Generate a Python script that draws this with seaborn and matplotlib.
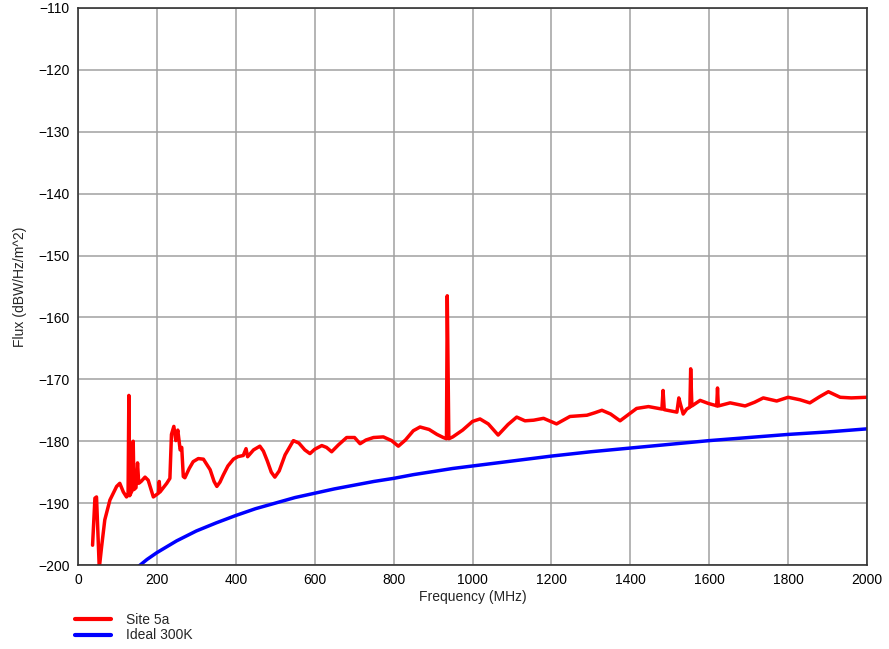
import numpy as np
import pandas as pd
import seaborn as sns
import matplotlib.pyplot as plt
from matplotlib.lines import Line2D

# measured flux, site 5a
red_freq = [37, 43, 47, 54, 60, 68, 81, 98, 106, 115, 123, 127, 129, 131, 137, 140, 142,
            147, 151, 154, 160, 170, 178, 191, 204, 206, 208, 225, 233, 237, 243, 248, 253,
            259, 263, 267, 271, 282, 292, 305, 318, 335, 345, 352, 360, 368, 380, 394, 405,
            419, 426, 430, 445, 461, 470, 480, 490, 499, 510, 525, 546, 560, 575, 588, 600,
            618, 630, 643, 660, 681, 701, 715, 730, 749, 774, 795, 812, 830, 850, 867, 890,
            910, 926, 934, 936, 940, 950, 975, 1000, 1019, 1040, 1065, 1090, 1112, 1133,
            1155, 1180, 1213, 1247, 1290, 1310, 1328, 1350, 1374, 1395, 1416, 1446, 1480,
            1483, 1486, 1518, 1523, 1527, 1534, 1543, 1551, 1553, 1556, 1577, 1598, 1615,
            1619, 1621, 1623, 1653, 1691, 1715, 1737, 1771, 1800, 1830, 1855, 1880, 1902,
            1932, 1960, 2000]
red_flux = [-196.8, -189.2, -189.0, -200.5, -197.0, -192.7, -189.5, -187.3, -186.8, -188.2,
            -189.0, -188.7, -172.6, -188.8, -188.0, -180.0, -187.8, -187.5, -183.5, -186.8,
            -186.5, -185.8, -186.3, -189.0, -188.4, -186.5, -188.2, -186.8, -186.0, -178.9,
            -177.6, -179.9, -178.2, -181.4, -181.0, -185.7, -185.9, -184.4, -183.3, -182.8,
            -182.9, -184.6, -186.5, -187.3, -186.6, -185.5, -184.0, -182.9, -182.5, -182.3,
            -181.2, -182.5, -181.4, -180.8, -181.6, -183.2, -185.0, -185.8, -184.8, -182.2,
            -179.9, -180.3, -181.4, -182.0, -181.3, -180.7, -181.0, -181.7, -180.6, -179.4,
            -179.4, -180.4, -179.8, -179.4, -179.3, -179.9, -180.8, -179.8, -178.3, -177.7,
            -178.1, -178.9, -179.4, -179.6, -156.5, -179.6, -179.3, -178.2, -176.8, -176.4,
            -177.2, -179.0, -177.3, -176.1, -176.7, -176.6, -176.3, -177.2, -176.0, -175.8,
            -175.4, -175.0, -175.6, -176.7, -175.7, -174.7, -174.4, -174.8, -171.8, -174.9,
            -175.3, -173.0, -174.0, -175.6, -174.8, -174.5, -168.3, -174.3, -173.4, -173.9,
            -174.2, -174.3, -171.4, -174.3, -173.8, -174.3, -173.7, -173.0, -173.5, -172.9,
            -173.3, -173.8, -172.8, -172.0, -172.9, -173.0, -172.9]

# ideal 300K thermal flux
blue_freq = [150, 175, 200, 250, 300, 350, 400, 450, 500, 550, 600, 650, 700, 750, 800, 850,
             900, 950, 1000, 1100, 1200, 1300, 1400, 1500, 1600, 1700, 1800, 1900, 2000]
blue_flux = [-200.4, -199.1, -198.0, -196.1, -194.5, -193.2, -192.0, -190.9, -190.0, -189.1,
             -188.4, -187.7, -187.1, -186.5, -186.0, -185.4, -184.9, -184.4, -184.0, -183.2,
             -182.4, -181.7, -181.1, -180.5, -179.9, -179.4, -178.9, -178.5, -178.0]

df = pd.concat([
    pd.DataFrame({'freq': red_freq, 'flux': red_flux, 'series': 'Site 5a'}),
    pd.DataFrame({'freq': blue_freq, 'flux': blue_flux, 'series': 'Ideal 300K'}),
])

sns.set_style('whitegrid')
plt.rcParams['font.family'] = ['Liberation Sans', 'DejaVu Sans']

fig = plt.figure(figsize=(8.89, 6.49), dpi=100)
ax = fig.add_axes([0.0877, 0.1294, 0.8876, 0.8583])

sns.lineplot(data=df, x='freq', y='flux', hue='series', estimator=None, sort=False,
             palette={'Site 5a': '#ff0000', 'Ideal 300K': '#0000ff'}, linewidth=2.5,
             ax=ax, legend=False)

ax.set_xlim(0, 2000)
ax.set_ylim(-200, -110)
ax.set_xticks(np.arange(0, 2001, 200))
ax.set_yticks(np.arange(-200, -109, 10))
ax.grid(True, color='#a0a0a0', linewidth=1.1)
for s in ax.spines.values():
    s.set_color('#333333')
    s.set_linewidth(1.2)
ax.tick_params(labelsize=10, length=0, pad=6, colors='black')
ax.set_xlabel('Frequency (MHz)', fontsize=10, labelpad=2)
ax.set_ylabel('Flux (dBW/Hz/m^2)', fontsize=10, labelpad=8)

handles = [Line2D([], [], color='#ff0000', lw=3), Line2D([], [], color='#0000ff', lw=3)]
fig.legend(handles, ['Site 5a', 'Ideal 300K'], loc='upper left',
           bbox_to_anchor=(0.0765, 0.066), frameon=False, fontsize=10,
           handlelength=2.6, handletextpad=1.1, labelspacing=0.1, borderpad=0)

fig.savefig('out.png', dpi=100, facecolor='white')
